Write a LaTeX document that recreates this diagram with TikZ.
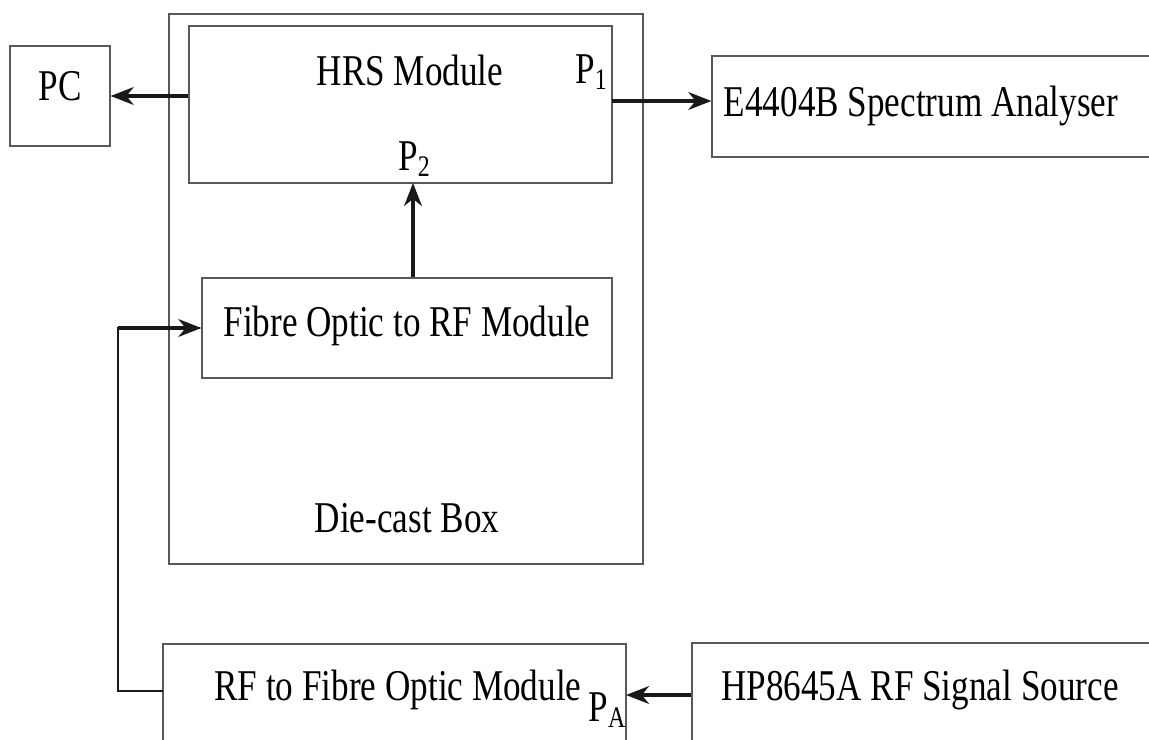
\documentclass[tikz,border=0pt]{standalone}
\usepackage{fontspec}
\setmainfont{Liberation Serif}[FakeStretch=0.8]
\usetikzlibrary{arrows.meta}

\tikzset{
  blk/.style={draw=black!65, line width=0.7pt, rectangle, inner sep=0pt},
  lbl/.style={font=\fontsize{25}{29}\selectfont, inner sep=0pt},
  sig/.style={line width=2.3pt, black!90, -{Stealth[length=13pt, width=10pt, inset=4pt]}},
  wire/.style={line width=1.3pt, black!90}
}
\newcommand{\port}[1]{P\raisebox{-0.3ex}{\fontsize{17}{19}\selectfont #1}}

\begin{document}
\begin{tikzpicture}[x=0.02cm, y=-0.02cm]
            \useasboundingbox (0,0) rectangle (1149,740);
            \clip (0,0) rectangle (1149,740);

            % Boxes
            \node[blk, minimum width=100*0.02cm, minimum height=100*0.02cm] (pc) at (60,96) {};
            \node[blk, minimum width=474*0.02cm, minimum height=550*0.02cm] (box) at (406,289) {};
            \node[blk, minimum width=423*0.02cm, minimum height=157*0.02cm] (hrs) at (400.5,104.5) {};
            \node[blk, minimum width=410*0.02cm, minimum height=100*0.02cm] (fibre) at (407,328) {};
            \node[blk, minimum width=500*0.02cm, minimum height=101*0.02cm] (spec) at (962,106.5) {};
            \node[blk, minimum width=463*0.02cm, minimum height=200*0.02cm] (rfof) at (394.5,744) {};
            \node[blk, minimum width=500*0.02cm, minimum height=200*0.02cm] (source) at (942,743) {};

            % Labels
            \node[lbl] (pctext) at (60,86) {PC};
            \node[lbl] (hrstext) at (410,70) {HRS Module};
            \node[lbl] (fibretext) at (407,326) {Fibre Optic to RF Module};
            \node[lbl] (boxtext) at (407,518) {Die-cast Box};
            \node[lbl] (spectext) at (921,106) {E4404B Spectrum Analyser};
            \node[lbl] (rfoftext) at (398,690) {RF to Fibre Optic Module};
            \node[lbl] (sourcetext) at (920,690) {HP8645A RF Signal Source};
            \node[lbl] (p1text) at (591,72) {\port{1}};
            \node[lbl] (p2text) at (414,159) {\port{2}};
            \node[lbl] (patext) at (607,710) {\port{A}};

            % Ports
            \coordinate (p1) at (612,101);
            \coordinate (p2) at (413,183);
            \coordinate (pa) at (626,695);
            \coordinate (rfout) at (163,691);

            % Signal paths
            \draw[sig] (pc.east -| hrs.west) -- (pc.east);
            \draw[sig] (p1) -- (p1 -| spec.west);
            \draw[sig] (p2 |- fibre.north) -- (p2);
            \draw[sig] (pa -| source.west) -- (pa);
            \draw[wire] (rfout) -- ++(-45,0) |- ([xshift=-1pt]fibre.west);
            \draw[sig] (118,328) -- (fibre.west);

        \end{tikzpicture}
\end{document}
